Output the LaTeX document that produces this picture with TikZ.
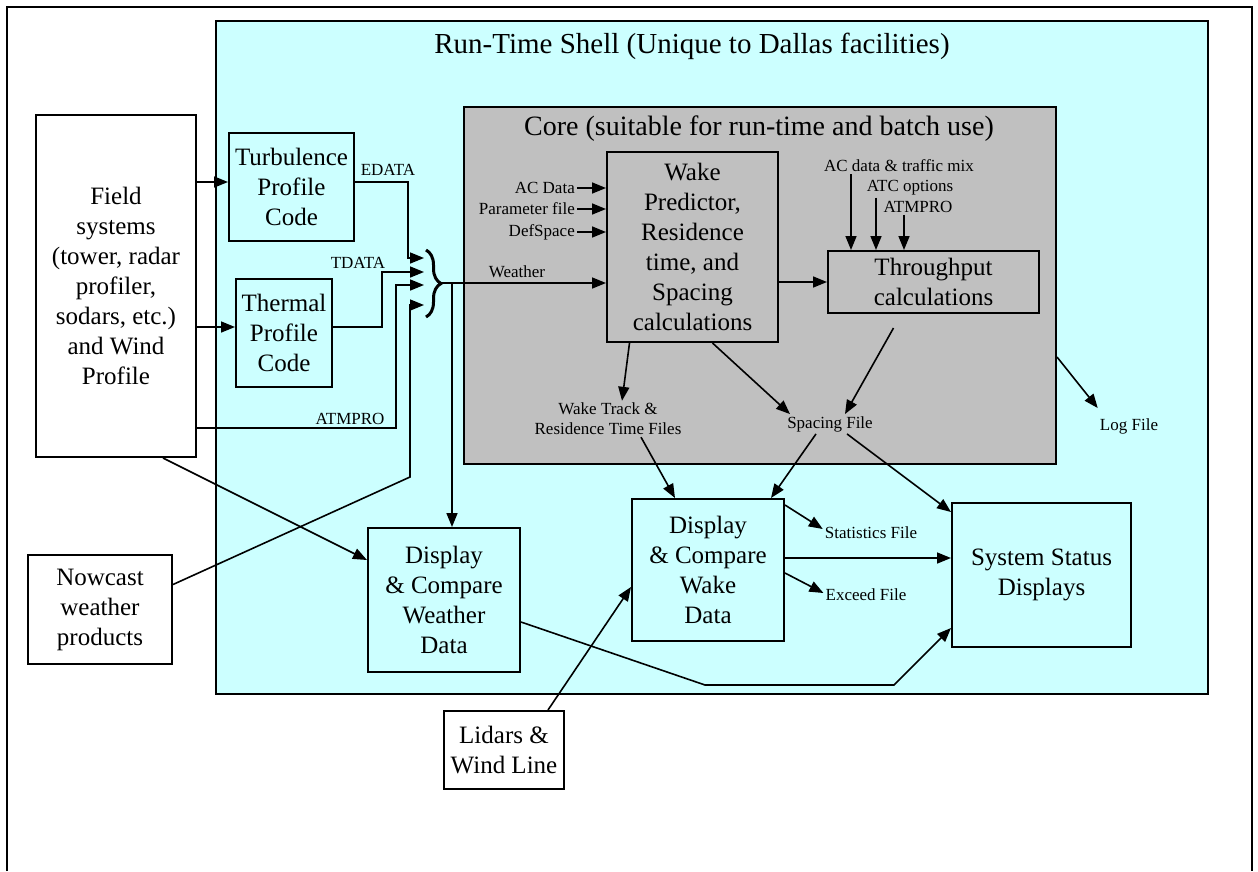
\documentclass[tikz,border=0pt]{standalone}
\usepackage{fontspec}
\setmainfont{Liberation Serif}
\usetikzlibrary{arrows.meta,calc,decorations.pathreplacing}
\definecolor{shellcyan}{HTML}{CCFFFF}
\definecolor{coregray}{HTML}{C0C0C0}

\begin{document}
\begin{tikzpicture}[x=1pt,y=-1pt,
	box/.style={draw,line width=2pt,fill=shellcyan,align=center,inner sep=0pt,font=\fontsize{25}{30}\selectfont},
	wbox/.style={box,fill=white},
	cbox/.style={box,fill=coregray},
	lbl/.style={font=\fontsize{17}{20}\selectfont,inner sep=2pt,align=center},
	arr/.style={line width=1.6pt,-{Triangle[length=14pt,width=11pt]}}]
	\useasboundingbox (0,0) rectangle (1258,871);
	\draw[line width=2pt] (7,871) -- (7,7) -- (1252,7) -- (1252,871);
	% shell and core
	\node[draw,line width=2pt,fill=shellcyan,minimum width=992pt,minimum height=673pt] (shell) at (712,357.5) {};
	\node[font=\fontsize{29}{32}\selectfont] (shelltitle) at (692,46) {Run-Time Shell (Unique to Dallas facilities)};
	\node[draw,line width=2pt,fill=coregray,minimum width=592pt,minimum height=357pt] (core) at (760,285.5) {};
	\node[font=\fontsize{28}{32}\selectfont] (coretitle) at (759,129) {Core (suitable for run-time and batch use)};
	% boxes
	\node[wbox,minimum width=160pt,minimum height=342pt] (field) at (116,286) {Field\\systems\\(tower, radar\\profiler,\\sodars, etc.)\\and Wind\\Profile};
	\node[box,minimum width=125pt,minimum height=108pt] (turb) at (291.5,187) {Turbulence\\Profile\\Code};
	\node[box,minimum width=96pt,minimum height=108pt] (therm) at (284,333) {Thermal\\Profile\\Code};
	\node[cbox,minimum width=171pt,minimum height=190pt] (wake) at (692.5,247) {Wake\\Predictor,\\Residence\\time, and\\Spacing\\calculations};
	\node[cbox,minimum width=211pt,minimum height=62pt] (thru) at (933.5,282) {Throughput\\calculations};
	\node[box,minimum width=152pt,minimum height=144pt] (dispw) at (444,600) {Display\\\& Compare\\Weather\\Data};
	\node[wbox,minimum width=144pt,minimum height=109pt] (nowcast) at (100,609.5) {Nowcast\\weather\\products};
	\node[wbox,minimum width=120pt,minimum height=78pt] (lidar) at (504,750) {Lidars \&\\Wind Line};
	\node[box,minimum width=152pt,minimum height=142pt] (dispk) at (708,570) {Display\\\& Compare\\Wake\\Data};
	\node[box,minimum width=179pt,minimum height=144pt] (status) at (1041.5,575) {System Status\\Displays};
	% labels
	\node[lbl] (edata) at (388,170) {EDATA};
	\node[lbl] (tdata) at (358,263) {TDATA};
	\node[lbl] (atmfield) at (350,419) {ATMPRO};
	\node[lbl] (weather) at (517,272) {Weather};
	\node[lbl,anchor=east] (acdata) at (577,188) {AC Data};
	\node[lbl,anchor=east] (paramf) at (577,209) {Parameter file};
	\node[lbl,anchor=east] (defsp) at (577,232) {DefSpace};
	\node[lbl] (acmix) at (899,166) {AC data \& traffic mix};
	\node[lbl] (atcopt) at (910,188) {ATC options};
	\node[lbl] (atmcore) at (918,207) {ATMPRO};
	\node[lbl] (wtrack) at (608,419) {Wake Track \&\\Residence Time Files};
	\node[lbl] (spcf) at (830,424) {Spacing File};
	\node[lbl] (logf) at (1129,426) {Log File};
	\node[lbl] (stats) at (871,533) {Statistics File};
	\node[lbl] (exceed) at (866,595) {Exceed File};
	% brace and its inputs
	\coordinate (brtop) at (426,250);
	\coordinate (brbot) at (426,317);
	\draw[line width=3pt,decorate,decoration={brace,amplitude=15pt}] (brtop) -- (brbot);
	\coordinate (brtip) at (442,283);
	\coordinate (ine) at (424,258);
	\coordinate (int) at (424,272);
	\coordinate (ina) at (424,285);
	\coordinate (inn) at (424,305);
	\coordinate (nbend) at (410,477);
	\coordinate (wdrop) at ([xshift=8pt]dispw.north);
	\coordinate (dkout) at ([yshift=12pt]dispk.east);
	\coordinate (wbend1) at (705,685);
	\coordinate (wbend2) at (894,685);
	\draw[arr] ([yshift=5pt]field.east |- turb.west) -- ([yshift=5pt]turb.west);
	\draw[arr] ([yshift=6pt]field.east |- therm.west) -- ([yshift=6pt]therm.west);
	\draw[arr] ([yshift=5pt]turb.east) -| ([xshift=-16pt]ine) -- (ine);
	\draw[arr] ([yshift=6pt]therm.east) -| ([xshift=-42pt]int) -- (int);
	\draw[arr] ([yshift=30pt]field.south east) -| ([xshift=-28pt]ina) -- (ina);
	\draw[arr] ([yshift=25pt]nowcast.east) -- (nbend) |- (inn);
	\draw[arr] (brtip) -- (brtip -| wake.west);
	\draw[arr] (wdrop |- brtip) -- (wdrop);
	% core
	\draw[arr] (acdata.east) -- (acdata.east -| wake.west);
	\draw[arr] (paramf.east) -- (paramf.east -| wake.west);
	\draw[arr] (defsp.east) -- (defsp.east -| wake.west);
	\draw[arr] (wake.east |- thru.west) -- (thru.west);
	\draw[arr] ([xshift=-48pt]acmix.south) -- ([xshift=-48pt]acmix.south |- thru.north);
	\draw[arr] ([xshift=-34pt]atcopt.south) -- ([xshift=-34pt]atcopt.south |- thru.north);
	\draw[arr] ([xshift=-14pt]atmcore.south) -- ([xshift=-14pt]atmcore.south |- thru.north);
	\draw[arr] ([xshift=-40pt,yshift=-14pt]thru.south) -- ([xshift=15pt]spcf.north);
	\draw[arr] ([xshift=-63pt]wake.south) -- ([xshift=14pt]wtrack.north);
	\draw[arr] ([xshift=20pt]wake.south) -- ([xshift=-40pt]spcf.north);
	\draw[arr] ([yshift=-71.5pt]core.east) -- ([yshift=8pt]logf.north west);
	% displays
	\draw[arr] ([xshift=33pt]wtrack.south) -- ([xshift=-33pt]dispk.north);
	\draw[arr] ([xshift=-14pt]spcf.south) -- ([xshift=63pt]dispk.north);
	\draw[arr] ([xshift=17pt]spcf.south) -- ([yshift=-10pt]status.north west);
	\draw[arr] ([yshift=-7pt]dispk.north east) -- ([yshift=4pt]stats.west);
	\draw[arr] (dkout) -- (dkout -| status.west);
	\draw[arr] ([yshift=-3pt]dispk.east) -- ([yshift=2pt]exceed.west);
	\draw[arr] ([xshift=47pt]field.south) -- ([yshift=40pt]dispw.west);
	\draw[arr] ([yshift=-22pt]dispw.east) -- (wbend1) -- (wbend2) -- ([yshift=20pt]status.south west);
	\draw[arr] ([xshift=44pt]lidar.north) -- ([yshift=-17pt]dispk.west);
\end{tikzpicture}
\end{document}
